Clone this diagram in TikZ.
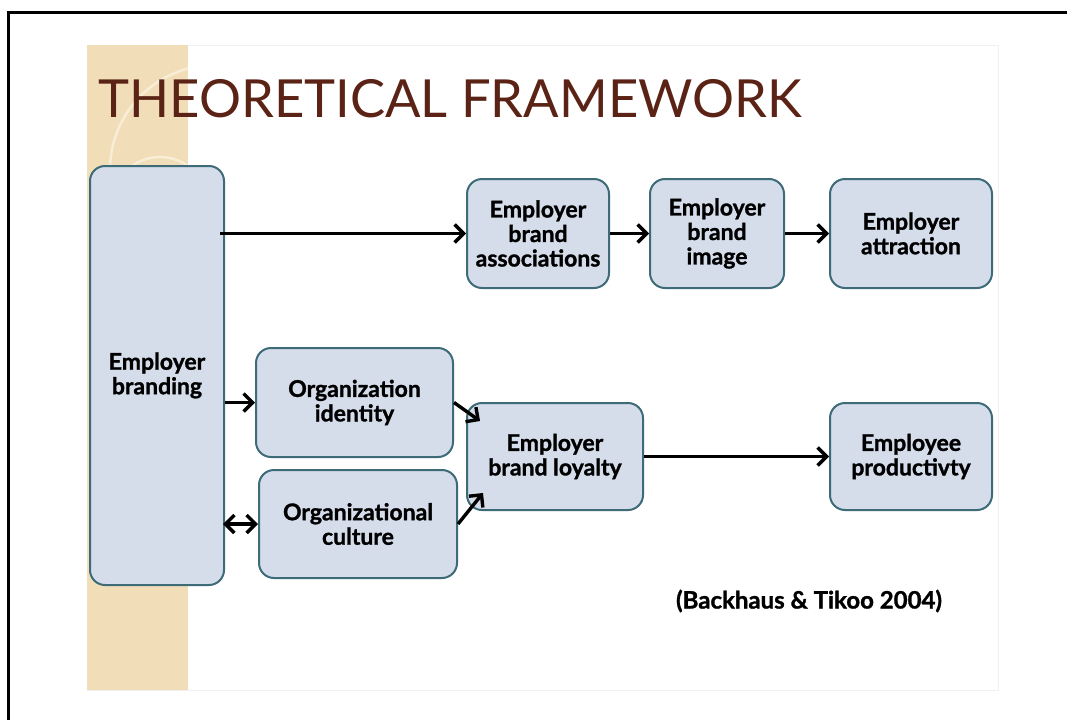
\documentclass[tikz,border=0pt]{standalone}
\usepackage{fontspec}
\setmainfont{Lato}[BoldFeatures={FakeBold=1.2}]
\usetikzlibrary{arrows.meta}
\definecolor{titlebrown}{HTML}{5B2316}
\definecolor{boxfill}{HTML}{D5DCEA}
\definecolor{boxline}{HTML}{3D6B78}
\definecolor{stripbeige}{HTML}{F1DEB8}
\definecolor{stripring}{HTML}{F8EDD6}
\begin{document}
\begin{tikzpicture}[x=1pt,y=-1pt,
	fbox/.style={draw=boxline,line width=2pt,fill=boxfill,rounded corners=15pt,
		align=center,inner sep=0pt,font=\bfseries\fontsize{23}{24.5}\selectfont},
	link/.style={line width=3.4pt,-{Straight Barb[length=9pt,width=18pt]}},
	twolink/.style={line width=3.4pt,{Straight Barb[length=9pt,width=18pt]}-{Straight Barb[length=9pt,width=18pt]}}]
	\useasboundingbox (0,0) rectangle (1067,720);
	\fill[white] (0,0) rectangle (1067,720);
	\draw[line width=3pt] (8.5,720) -- (8.5,12.5) -- (1067,12.5);
	\draw[black!6] (87,45) rectangle (998,690);
	\fill[stripbeige] (87,45) rectangle (188,690);
	\begin{scope}
		\clip (87,45) rectangle (188,690);
		\draw[stripring,line width=2.5pt] (215,170) circle (105);
		\draw[stripring,line width=2.5pt] (160,205) circle (48);
	\end{scope}
	\draw (95,117) node[anchor=base west,text=titlebrown,font=\fontsize{52.5}{60}\selectfont] (title) {THEORETICAL FRAMEWORK};
	\draw (157,375.5) node[fbox,minimum width=134,minimum height=419] (brand) {Employer\\branding};
	\draw (538,233.5) node[fbox,minimum width=142,minimum height=109] (assoc) {Employer\\brand\\associations};
	\draw (717,233.5) node[fbox,minimum width=134,minimum height=109] (image) {Employer\\brand\\image};
	\draw (911,233.5) node[fbox,minimum width=162,minimum height=109] (attract) {Employer\\attraction};
	\draw (354.5,402.5) node[fbox,minimum width=197,minimum height=109] (ident) {Organization\\identity};
	\draw (358,524) node[fbox,minimum width=198,minimum height=108] (culture) {Organizational\\culture};
	\draw (555,456.5) node[fbox,minimum width=176,minimum height=107] (loyal) {Employer\\brand loyalty};
	\draw (911,456.5) node[fbox,minimum width=162,minimum height=107] (prod) {Employee\\productivty};
	\draw (809,601) node[font=\bfseries\fontsize{24}{26}\selectfont] (cite) {(Backhaus \& Tikoo 2004)};
	\draw[link] ([xshift=-5]brand.east |- assoc.west) -- (assoc.west);
	\draw[link] (assoc.east) -- (image.west);
	\draw[link] (image.east) -- (attract.west);
	\draw[link] (brand.east |- ident.west) -- (ident.west);
	\draw[twolink] ([xshift=-2]brand.east |- culture.west) -- (culture.west);
	\draw[link] (ident.east) -- ([shift={(14,19)}]loyal.north west);
	\draw[link] (culture.east) -- ([shift={(17,-18)}]loyal.south west);
	\draw[link] (loyal.east) -- (prod.west);
\end{tikzpicture}
\end{document}
